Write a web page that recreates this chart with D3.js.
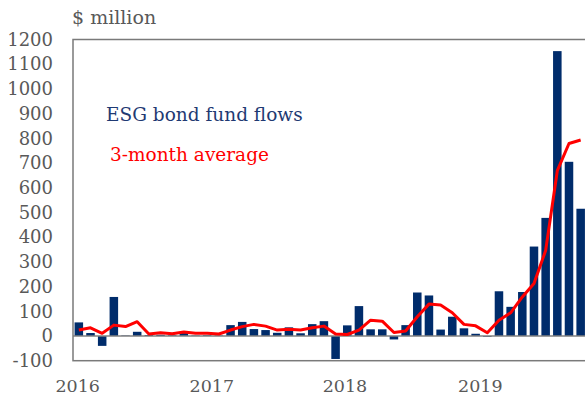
<!DOCTYPE html>
<html><head><meta charset="utf-8">
<script src="https://cdn.jsdelivr.net/npm/d3@7/dist/d3.min.js"></script>
<style>body{margin:0;background:#fff;}svg{display:block;}</style>
</head><body>
<svg id="c" width="585" height="400"></svg>
<script>
const months = ["2016-01","2016-02","2016-03","2016-04","2016-05","2016-06","2016-07","2016-08","2016-09","2016-10","2016-11","2016-12",
"2017-01","2017-02","2017-03","2017-04","2017-05","2017-06","2017-07","2017-08","2017-09","2017-10","2017-11","2017-12",
"2018-01","2018-02","2018-03","2018-04","2018-05","2018-06","2018-07","2018-08","2018-09","2018-10","2018-11","2018-12",
"2019-01","2019-02","2019-03","2019-04","2019-05","2019-06","2019-07","2019-08"];
const flows = [55,12,-40,158,2,17,4,5,3,12,2,3,
2,44,57,28,24,13,35,11,48,60,-93,43,
121,27,27,-14,44,176,164,26,78,31,9,-3,
181,118,178,362,478,1153,705,515];
const avg3 = [24,33,11,44,38,58,8,13,9,16,11,11,
8,24,38,47,40,24,27,24,33,40,8,6,
24,64,60,14,20,78,129,125,94,47,41,13,
64,94,158,212,346,669,779,793];
const yTicks = [-100,0,100,200,300,400,500,600,700,800,900,1000,1100,1200];
const yearLabels = ["2016","2017","2018","2019"];
const yearPos = [-0.1,11.4,22.8,34.4];

const svg = d3.select("#c");
const L = 73, R = 586.5, T = 39.5, B = 360.7;
const font = "'DejaVu Serif', serif";
const grey = "#595959";

const x = d3.scaleBand().domain(months).range([L, R]).paddingInner(0.27).paddingOuter(0.135);
const xi = d3.scaleLinear().domain([0, months.length - 1]).range([x(months[0]) + x.bandwidth()/2, x(months[months.length-1]) + x.bandwidth()/2]);
const y = d3.scaleLinear().domain([-100, 1200]).range([B, T]);

// bars
svg.append("g").selectAll("rect").data(flows).join("rect")
  .attr("x", (d,i) => x(months[i]))
  .attr("width", x.bandwidth())
  .attr("y", d => y(Math.max(0, d)))
  .attr("height", d => Math.abs(y(d) - y(0)))
  .attr("fill", "#002c6b");

// zero line
svg.append("line").attr("x1", L).attr("x2", R).attr("y1", y(0)).attr("y2", y(0))
  .attr("stroke", "#808080").attr("stroke-width", 1.5);

// average line
svg.append("path").datum(avg3)
  .attr("d", d3.line().x((d,i) => xi(i)).y(d => y(d)))
  .attr("fill", "none").attr("stroke", "#ff0000").attr("stroke-width", 3)
  .attr("stroke-linejoin", "round");

// frame
svg.append("rect").attr("x", L).attr("y", T).attr("width", R - L).attr("height", B - T)
  .attr("fill", "none").attr("stroke", "#7a7a7a").attr("stroke-width", 1.5);

// y axis labels
const yAxis = d3.axisLeft(y).tickValues(yTicks).tickSize(0).tickPadding(20).tickFormat(d => String(d));
const ga = svg.append("g").attr("transform", `translate(${L},0)`).call(yAxis);
ga.select(".domain").remove();
ga.selectAll("text").attr("font-family", font).attr("font-size", 18).attr("fill", grey);

// x year labels
svg.append("g").selectAll("text").data(yearLabels).join("text")
  .attr("x", (d,i) => xi(yearPos[i]))
  .attr("y", 392)
  .attr("text-anchor", "middle")
  .attr("font-family", font).attr("font-size", 17.5).attr("fill", grey)
  .text(d => d);

// unit
svg.append("text").attr("x", 72).attr("y", 24).attr("font-family", font).attr("font-size", 19)
  .attr("fill", grey).text("$ million");

// legend labels
svg.append("text").attr("x", 106).attr("y", 121).attr("font-family", font).attr("font-size", 18.5)
  .attr("fill", "#1f3a73").text("ESG bond fund flows");
svg.append("text").attr("x", 110).attr("y", 161).attr("font-family", font).attr("font-size", 18.5)
  .attr("fill", "#ff0000").text("3-month average");
</script>
</body></html>
